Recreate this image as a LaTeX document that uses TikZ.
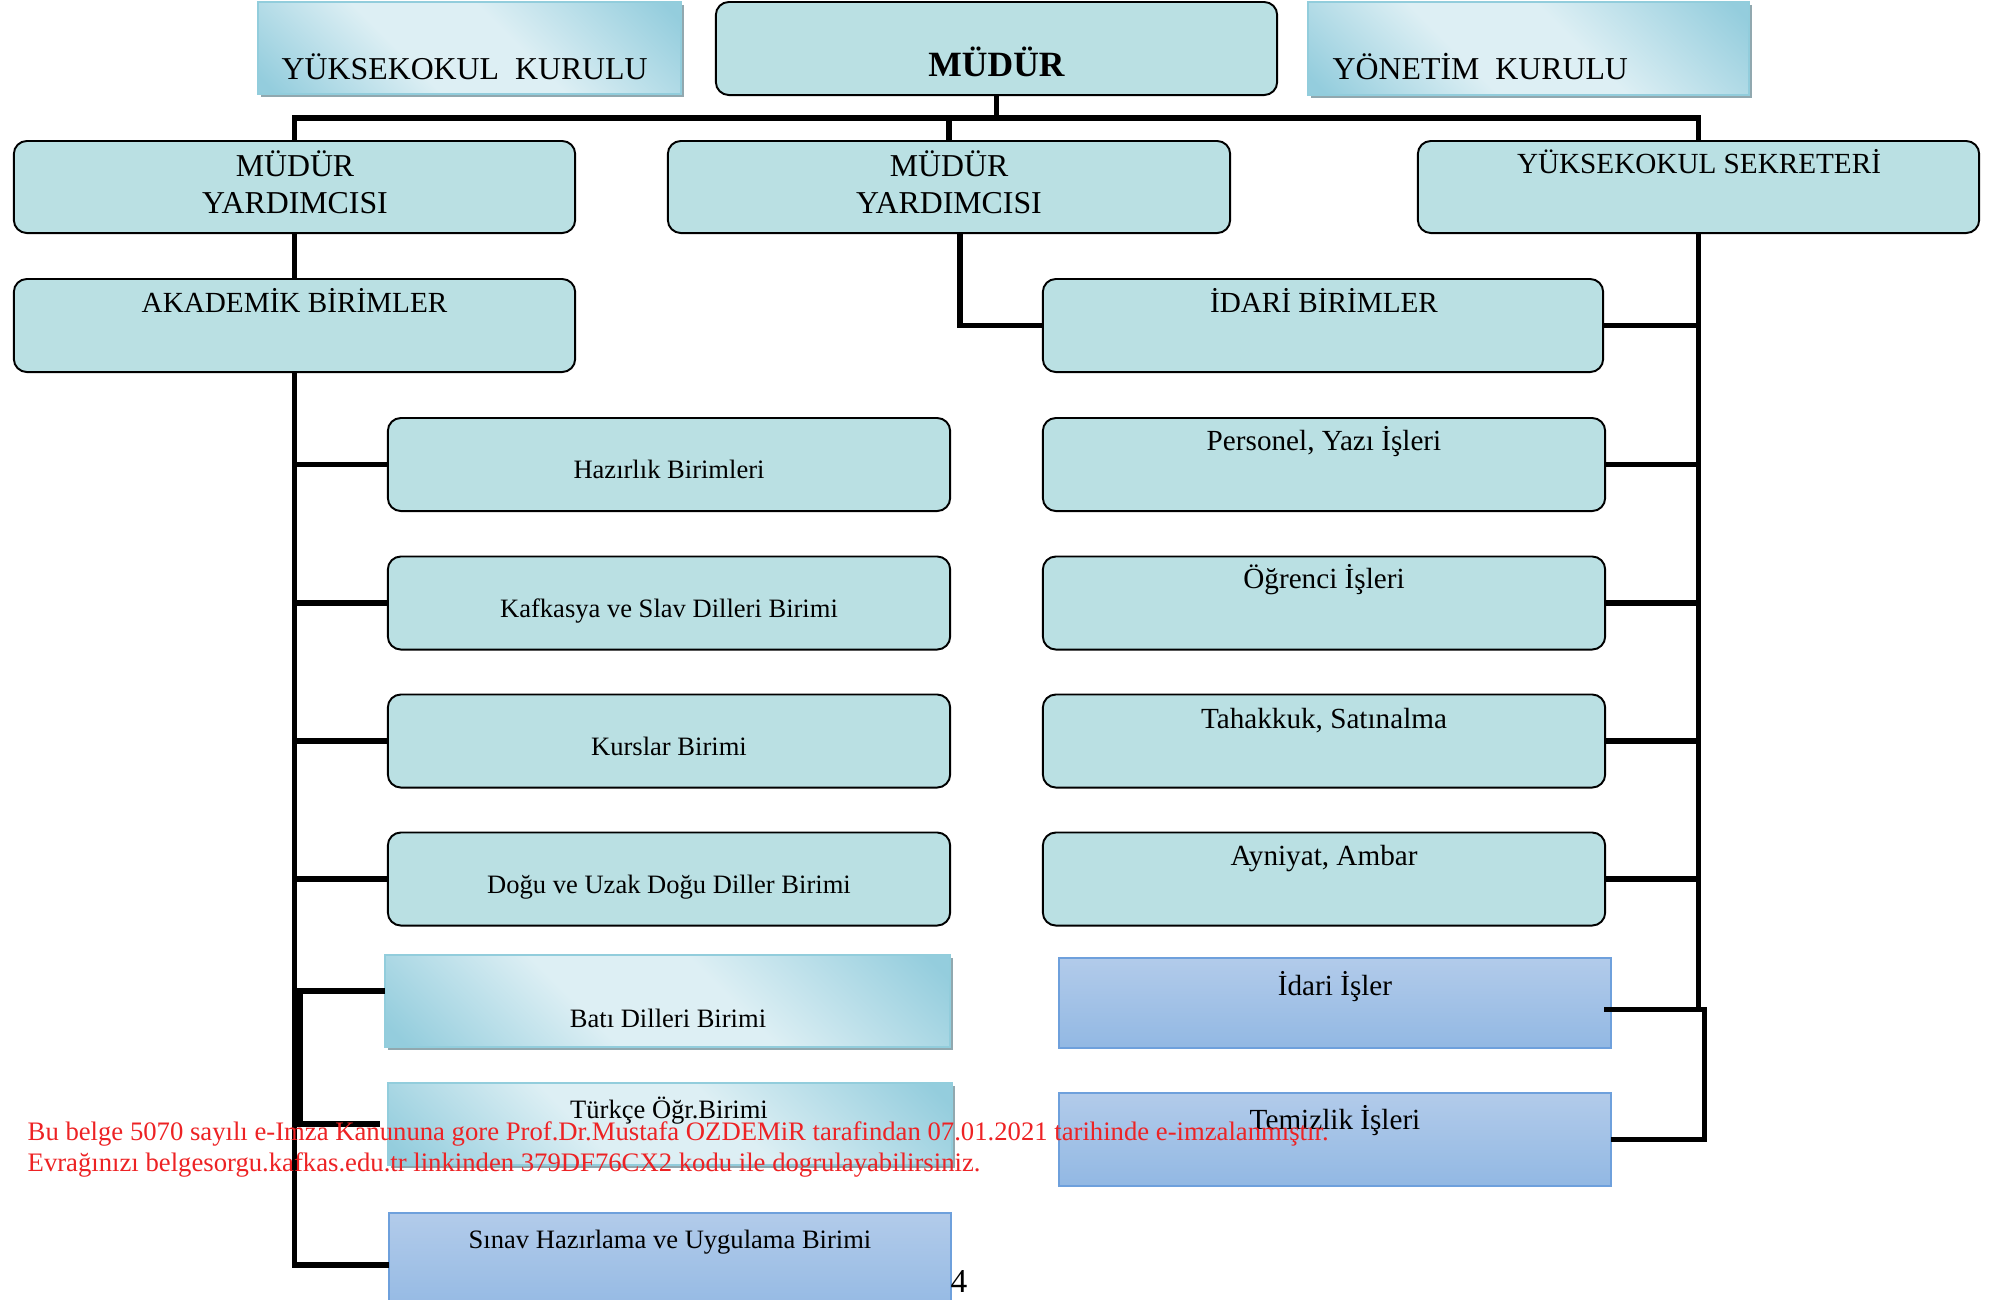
\documentclass[tikz,border=0pt]{standalone}
\usepackage{fontspec}
\setmainfont{Liberation Serif}
\usetikzlibrary{shadows,calc}
\definecolor{boxteal}{RGB}{186,224,227}
\definecolor{gborder}{RGB}{146,205,220}
\definecolor{gdark}{RGB}{148,205,221}
\definecolor{glight}{RGB}{221,239,244}
\definecolor{gshadow}{RGB}{145,168,175}
\definecolor{btop}{RGB}{178,203,234}
\definecolor{bbot}{RGB}{146,184,227}
\definecolor{bborder}{RGB}{110,160,220}
\definecolor{redwm}{RGB}{237,34,36}
\pgfdeclareverticalshading{gshade}{100bp}{color(0bp)=(gdark); color(17bp)=(gdark); color(40bp)=(glight); color(57bp)=(glight); color(83bp)=(gdark); color(100bp)=(gdark)}
\newcommand\fsz[1]{\fontsize{#1pt}{#1pt}\selectfont}
\tikzset{
  rbox/.style={draw=black, line width=0.55pt, fill=boxteal, rounded corners=3.7pt, inner sep=0pt, outer sep=0pt},
  gbox/.style={draw=gborder, line width=0.6pt, shade, shading=gshade, shading angle=-45,
     drop shadow={shadow xshift=0.9pt, shadow yshift=-0.9pt, fill=gshadow, opacity=1}, inner sep=0pt, outer sep=0pt},
  bbox/.style={draw=bborder, line width=0.5pt, top color=btop, bottom color=bbot, inner sep=0pt, outer sep=0pt},
  conn/.style={line width=1.65pt, line join=miter},
  lbl/.style={inner sep=0pt, anchor=base, text=black},
  lblw/.style={inner sep=0pt, anchor=base west, text=black},
  redt/.style={inner sep=0pt, anchor=base west, text=redwm, font=\fsz{7.59}},
}
\begin{document}
\begin{tikzpicture}[x=0.01cm, y=-0.01cm]
\useasboundingbox (0,0) rectangle (2000,1299);
\clip (0,0) rectangle (2000,1299);

% top row
\node[gbox, minimum width=4.23cm, minimum height=0.92cm] (ykk) at (469.5,48) {};
\node[rbox, minimum width=5.61cm, minimum height=0.93cm] (mudur) at (996.5,48.5) {};
\node[gbox, minimum width=4.41cm, minimum height=0.93cm] (yk) at (1528.5,48.5) {};
% second row
\node[rbox, minimum width=5.61cm, minimum height=0.92cm] (my1) at (294.5,187) {};
\node[rbox, minimum width=5.62cm, minimum height=0.92cm] (my2) at (949,187) {};
\node[rbox, minimum width=5.61cm, minimum height=0.92cm] (sek) at (1698.5,187) {};
% third row
\node[rbox, minimum width=5.61cm, minimum height=0.93cm] (akad) at (294.5,325.5) {};
\node[rbox, minimum width=5.60cm, minimum height=0.93cm] (idb) at (1323,325.5) {};
% left column
\node[rbox, minimum width=5.62cm, minimum height=0.93cm] (hazir) at (669,464.5) {};
\node[rbox, minimum width=5.62cm, minimum height=0.93cm] (kafk) at (669,603) {};
\node[rbox, minimum width=5.62cm, minimum height=0.93cm] (kurs) at (669,741) {};
\node[rbox, minimum width=5.62cm, minimum height=0.93cm] (dogu) at (669,879) {};
\node[gbox, minimum width=5.65cm, minimum height=0.92cm] (bati) at (667.5,1001) {};
\node[gbox, minimum width=5.64cm, minimum height=0.82cm] (turk) at (670,1124) {};
\node[bbox, minimum width=5.62cm, minimum height=1.04cm] (sinav) at (670,1265) {};
% right column
\node[rbox, minimum width=5.62cm, minimum height=0.93cm] (pers) at (1324,464.5) {};
\node[rbox, minimum width=5.62cm, minimum height=0.93cm] (ogr) at (1324,603) {};
\node[rbox, minimum width=5.62cm, minimum height=0.93cm] (tah) at (1324,741) {};
\node[rbox, minimum width=5.62cm, minimum height=0.93cm] (ayn) at (1324,879) {};
\node[bbox, minimum width=5.52cm, minimum height=0.90cm] (idis) at (1335,1003) {};
\node[bbox, minimum width=5.52cm, minimum height=0.93cm] (temiz) at (1335,1139.5) {};

% coordinates for connector bends
\coordinate (bus) at (996,118);
\coordinate (bj) at (300,991);
\coordinate (rsp) at (1698,1009.5);
\coordinate (rb) at (1704.5,1009.5);

% connectors
\draw[conn] (mudur.south) -- (mudur.south |- bus);
\draw[conn] (my1.north) -- (my1.north |- bus) -- (sek.north |- bus) -- (sek.north);
\draw[conn] (my2.north) -- (my2.north |- bus);
\draw[conn] (my1.south) -- (akad.north);
\draw[conn] (akad.south) -- (akad.south |- sinav.west) -- (sinav.west);
\foreach \n in {hazir,kafk,kurs,dogu}{\draw[conn] (akad.south |- \n.west) -- (\n.west);}
\draw[conn] (akad.south |- bj) -- (bati.west |- bj);
\draw[conn] (bj) |- ($(turk.west)+(-8,0)$);
\draw[conn] ($(my2.south)+(11,0)$) |- (idb.west);
\draw[conn] (sek.south) -- (sek.south |- rsp);
\foreach \n in {idb,pers,ogr,tah,ayn}{\draw[conn] (\n.east) -- (\n.east -| sek.south);}
\draw[conn] ($(idis.east)+(-7,6.5)$) -- (rb) -- (rb |- temiz.east) -- (temiz.east);

% texts
\node[lblw, font=\fsz{9.05}] (t1) at (281,79) {YÜKSEKOKUL\ \ KURULU};
\node[lbl, font=\fsz{10.1}\bfseries] (t2) at (996.5,76) {MÜDÜR};
\node[lblw, font=\fsz{9.05}] (t3) at (1332,79) {YÖNETİM\ \ KURULU};
\node[lbl, font=\fsz{9.05}] (t4) at (295,176) {MÜDÜR};
\node[lbl, font=\fsz{9.05}] (t5) at (295,213) {YARDIMCISI};
\node[lbl, font=\fsz{9.05}] (t6) at (949,176) {MÜDÜR};
\node[lbl, font=\fsz{9.05}] (t7) at (949,213) {YARDIMCISI};
\node[lbl, font=\fsz{8.3}] (t8) at (1699,173) {YÜKSEKOKUL SEKRETERİ};
\node[lbl, font=\fsz{8.3}] (t9) at (294.5,312) {AKADEMİK BİRİMLER};
\node[lbl, font=\fsz{8.3}] (t10) at (1324,312) {İDARİ BİRİMLER};
\node[lbl, font=\fsz{7.55}] (t11) at (669,478) {Hazırlık Birimleri};
\node[lbl, font=\fsz{7.55}] (t12) at (669,617) {Kafkasya ve Slav Dilleri Birimi};
\node[lbl, font=\fsz{7.55}] (t13) at (669,755) {Kurslar Birimi};
\node[lbl, font=\fsz{7.55}] (t14) at (669,893) {Doğu ve Uzak Doğu Diller Birimi};
\node[lbl, font=\fsz{7.55}] (t15) at (668,1027) {Batı Dilleri Birimi};
\node[lbl, font=\fsz{7.55}] (t16) at (669,1118) {Türkçe Öğr.Birimi};
\node[lbl, font=\fsz{7.55}] (t17) at (670,1248) {Sınav Hazırlama ve Uygulama Birimi};
\node[lbl, font=\fsz{8.3}] (t18) at (1324,450) {Personel, Yazı İşleri};
\node[lbl, font=\fsz{8.3}] (t19) at (1324,588) {Öğrenci İşleri};
\node[lbl, font=\fsz{8.3}] (t20) at (1324,728) {Tahakkuk, Satınalma};
\node[lbl, font=\fsz{8.3}] (t21) at (1324,865) {Ayniyat, Ambar};
\node[lbl, font=\fsz{8.3}] (t22) at (1335,995) {İdari İşler};
\node[lbl, font=\fsz{8.3}] (t23) at (1335,1129) {Temizlik İşleri};
\node[lblw, font=\fsz{9.5}] (t24) at (950,1292) {4};

% watermark
\node[redt] (w1) at (27,1140) {Bu belge 5070 sayılı e-Imza Kanununa gore Prof.Dr.Mustafa OZDEMiR tarafindan 07.01.2021 tarihinde e-imzalanmıştır.};
\node[redt] (w2) at (27,1171) {Evrağınızı belgesorgu.kafkas.edu.tr linkinden 379DF76CX2 kodu ile dogrulayabilirsiniz.};
\end{tikzpicture}
\end{document}
